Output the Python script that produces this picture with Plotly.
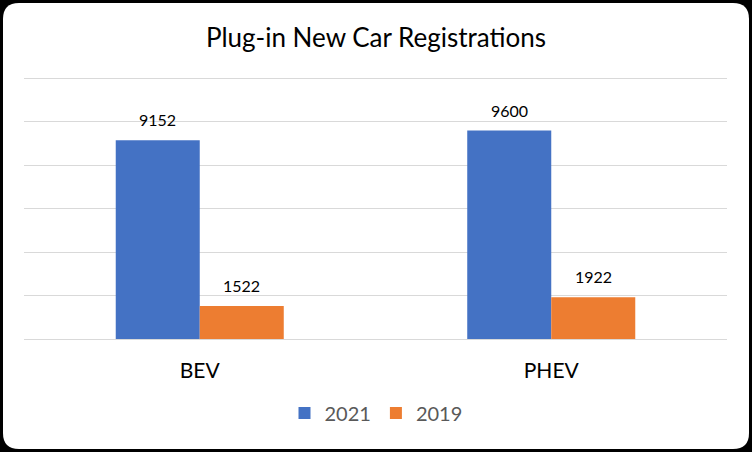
import plotly.graph_objects as go

categories = ["BEV", "PHEV"]
values_2021 = [9152, 9600]
values_2019 = [1522, 1922]
series_names = ["2021", "2019"]
series_colors = ["#4472C4", "#ED7D31"]

W, H = 752, 452
FONT = "Lato"

fig = go.Figure()
for name, vals, col in zip(series_names, [values_2021, values_2019], series_colors):
    fig.add_trace(go.Bar(name=name, x=categories, y=vals, marker_color=col,
                         marker_line_width=0))

# data labels placed at each bar's value via axis scales
for shift, vals in zip([-42, 42], [values_2021, values_2019]):
    for cat, v in zip(categories, vals):
        fig.add_annotation(x=cat, y=v, xref="x", yref="y", text=str(v), showarrow=False,
                           xshift=shift, yshift=9, yanchor="bottom",
                           font=dict(family=FONT, size=16, color="#000000"))

# rounded white card
x0, x1 = 3 / W, 749 / W
y0, y1 = 1 - 449 / H, 1 - 3 / H
rx, ry = 16 / W, 16 / H
path = (f"M {x0+rx},{y0} L {x1-rx},{y0} Q {x1},{y0} {x1},{y0+ry} L {x1},{y1-ry} "
        f"Q {x1},{y1} {x1-rx},{y1} L {x0+rx},{y1} Q {x0},{y1} {x0},{y1-ry} "
        f"L {x0},{y0+ry} Q {x0},{y0} {x0+rx},{y0} Z")
fig.add_shape(type="path", path=path, xref="paper", yref="paper",
              fillcolor="#FFFFFF", line=dict(width=0), layer="below")

fig.update_layout(
    width=W, height=H,
    margin=dict(l=0, r=0, t=0, b=0),
    paper_bgcolor="#000000",
    plot_bgcolor="rgba(0,0,0,0)",
    barmode="group",
    bargap=0.522,
    bargroupgap=0,
    title=dict(text="Plug-in New Car Registrations", x=0.5, xanchor="center",
               y=1 - 38 / H, yanchor="middle", yref="paper",
               font=dict(family=FONT, size=26, color="#000000")),
    legend=dict(orientation="h", x=0.5, xanchor="center", y=1 - 413 / H, yanchor="middle",
                font=dict(family=FONT, size=20, color="#595959"),
                itemwidth=30, traceorder="normal", bgcolor="rgba(0,0,0,0)"),
    xaxis=dict(domain=[24 / W, 727 / W], showgrid=False, showline=False, ticks="",
               tickfont=dict(family=FONT, size=21, color="#000000"),
               ticklabelstandoff=17),
    yaxis=dict(domain=[1 - 339 / H, 1 - 77.4 / H], range=[0, 12050], dtick=2000,
               showticklabels=False, gridcolor="#D9D9D9", gridwidth=1,
               zeroline=True, zerolinecolor="#D9D9D9", zerolinewidth=1, showline=False),
    showlegend=True,
)

fig.write_html("out.html", config={"displayModeBar": False},
               post_script="document.body.style.margin='0';document.body.style.padding='0';")
